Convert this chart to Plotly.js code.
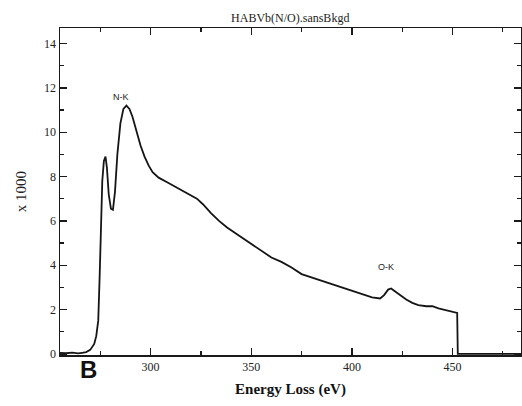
<!DOCTYPE html>
<html>
<head>
<meta charset="utf-8">
<script src="https://cdn.plot.ly/plotly-3.0.1.min.js"></script>
<style>html,body{margin:0;padding:0;background:#fff;}#chart{width:522px;height:406px;}</style>
</head>
<body>
<div id="chart"></div>
<script>
const energyLoss = [255,258,261,264,266,268,270,272,273,274,274.7,275.3,276,276.8,277.6,278.3,279.2,280.3,281.3,282.3,283.5,285,286.5,288,289.5,291,293,295,297,299,301,304,308,312,316,320,323,326,330,334,338,342,346,350,355,360,365,370,375,380,385,390,395,400,405,410,414,416,418,419.5,421,424,427,430,433,437,440,443,447,450,452.3,452.6,484];
const countsK = [0.05,0.03,0.06,0.02,0.05,0.08,0.18,0.45,0.8,1.5,3.5,5.5,7.8,8.7,8.9,8.4,7.2,6.55,6.5,7.3,9.0,10.4,11.05,11.2,11.05,10.7,10.0,9.4,8.9,8.5,8.2,7.95,7.75,7.55,7.35,7.15,7.0,6.75,6.35,6.0,5.7,5.45,5.2,4.95,4.65,4.35,4.15,3.9,3.6,3.45,3.3,3.15,3.0,2.85,2.7,2.55,2.5,2.65,2.9,2.95,2.85,2.65,2.45,2.3,2.2,2.15,2.15,2.05,1.95,1.9,1.85,0,0];
const xTicks = [300,350,400,450];
const yTicks = [0,2,4,6,8,10,12,14];
const chartTitle = 'HABVb(N/O).sansBkgd';
const edgeLabels = ['N-K','O-K'];
const edgeX = [285.5,417];
const edgeY = [11.6,3.9];

const serif = 'Liberation Serif, Times New Roman, serif';
const trace = {x: energyLoss, y: countsK, type:'scatter', mode:'lines',
  line:{color:'#151515', width:1.8}, hoverinfo:'skip'};

const axisCommon = {showgrid:false, zeroline:false, showline:true, linecolor:'#1a1a1a', linewidth:1.5,
  mirror:'allticks', ticks:'inside', ticklen:7, tickwidth:1.3, tickcolor:'#1a1a1a',
  tickfont:{family:serif, size:12, color:'#222'}};

const layout = {
  width:522, height:406,
  margin:{l:60, r:1, t:28, b:51},
  paper_bgcolor:'#fff', plot_bgcolor:'#fff',
  showlegend:false,
  title:{text:chartTitle, font:{family:serif, size:12, color:'#222'}, x:0.556, xanchor:'center', y:0.955, yanchor:'middle'},
  xaxis:Object.assign({}, axisCommon, {range:[255,484], tickvals:xTicks, ticktext:xTicks.map(String),
    minor:{ticks:'inside', dtick:25, tick0:0, ticklen:4, tickwidth:1.2, tickcolor:'#1a1a1a'},
    title:{text:'<b>Energy Loss (eV)</b>', font:{family:serif, size:15, color:'#111'}, standoff:10}}),
  yaxis:Object.assign({}, axisCommon, {range:[-0.05,14.7], tickvals:yTicks, ticktext:yTicks.map(String),
    minor:{ticks:'inside', dtick:1, tick0:0, ticklen:4, tickwidth:1.2, tickcolor:'#1a1a1a'},
    title:{text:'x 1000', font:{family:serif, size:15, color:'#222'}, standoff:14}}),
  annotations:[
    {x:edgeX[0], y:edgeY[0], text:edgeLabels[0], showarrow:false, font:{family:'Liberation Sans, Arial, sans-serif', size:9, color:'#222'}},
    {x:edgeX[1], y:edgeY[1], text:edgeLabels[1], showarrow:false, font:{family:'Liberation Sans, Arial, sans-serif', size:9, color:'#222'}},
    {xref:'paper', yref:'paper', x:0.039, y:-0.092, text:'<b>B</b>', showarrow:false, font:{family:'Liberation Sans, Arial, sans-serif', size:24, color:'#111'}}
  ]
};
Plotly.newPlot('chart', [trace], layout, {staticPlot:true, displayModeBar:false});
</script>
</body>
</html>
